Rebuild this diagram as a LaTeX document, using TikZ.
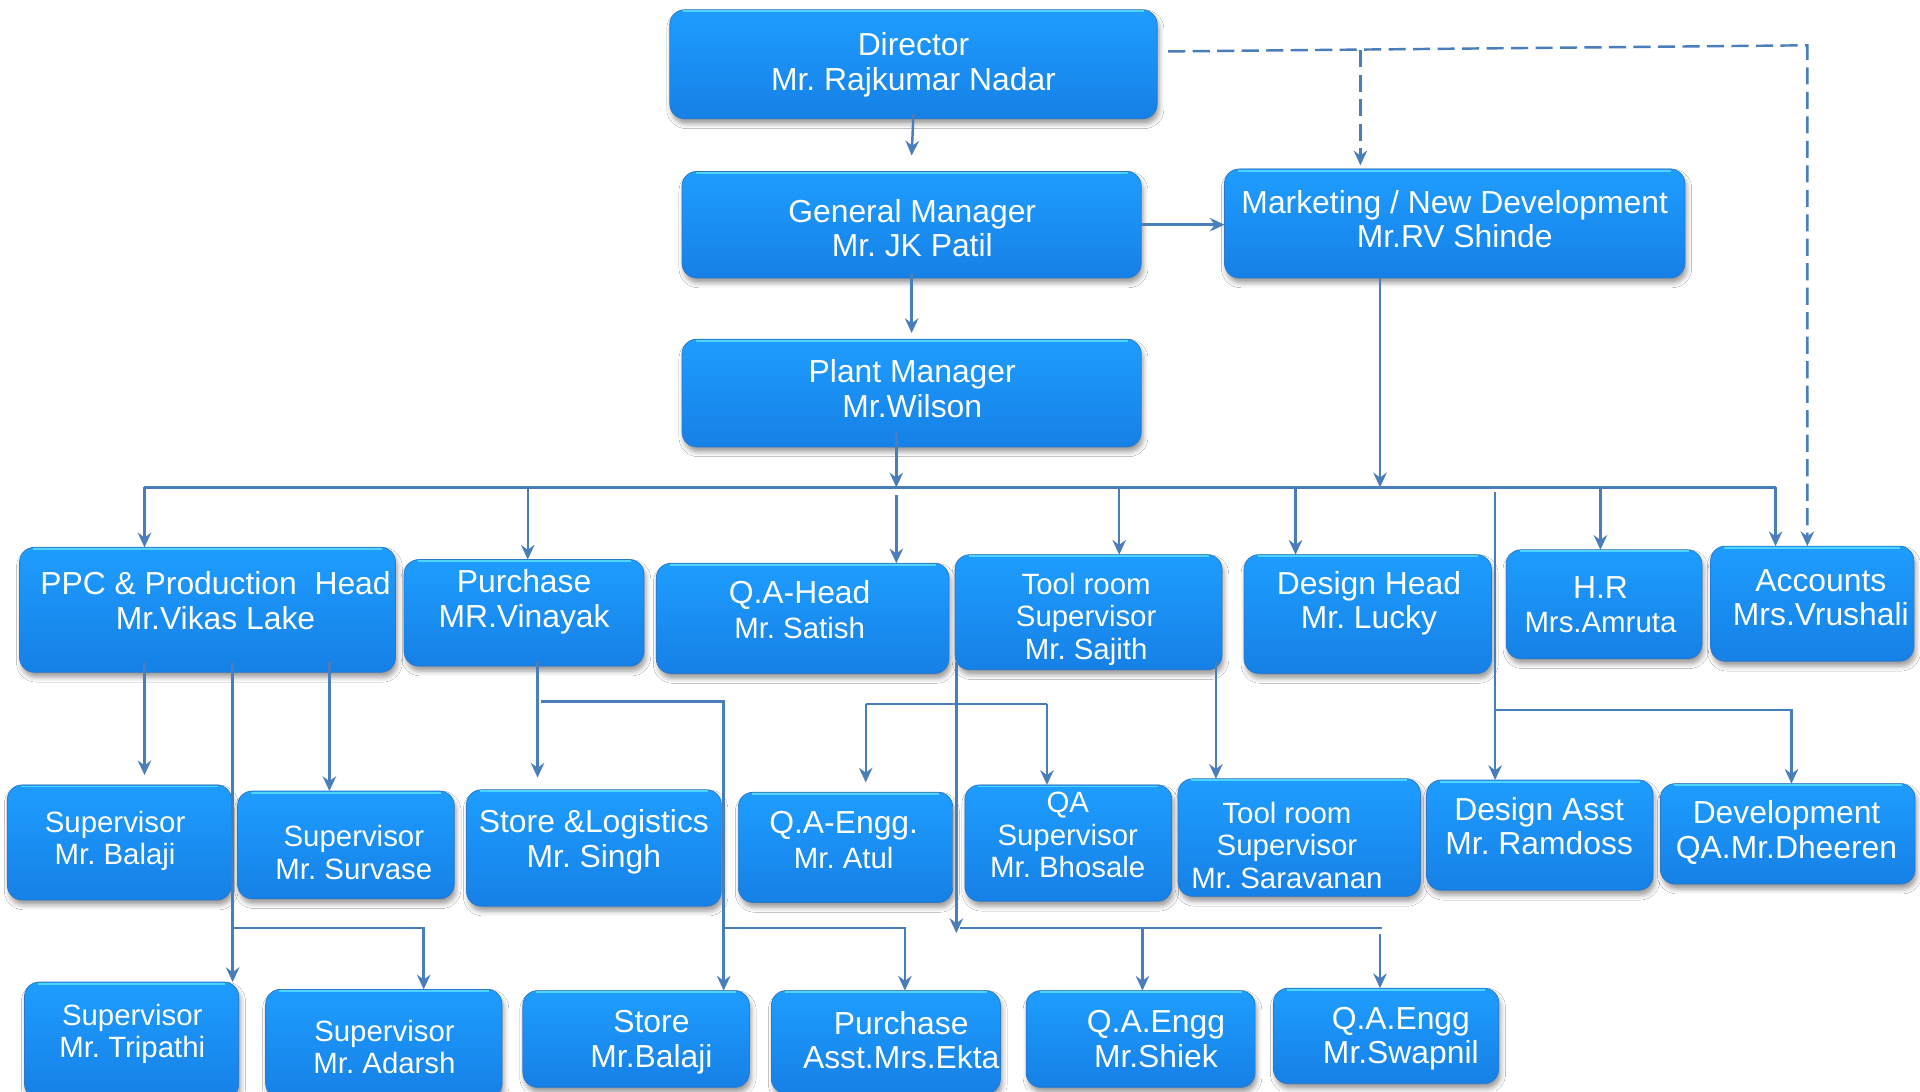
\documentclass[tikz,border=0pt]{standalone}
\usepackage{fontspec}
\setmainfont{Liberation Sans}
\usetikzlibrary{arrows.meta,shadows.blur}
\definecolor{lc}{HTML}{4A7EBB}
\definecolor{btop}{HTML}{1E9DFF}
\definecolor{bbot}{HTML}{1680E6}
\definecolor{bedge}{HTML}{2C78C6}
\definecolor{hlc}{HTML}{4FD3FF}
\tikzset{
  obox/.style={rectangle, rounded corners=12pt, top color=btop, bottom color=bbot,
    draw=bedge, line width=0.6pt, inner sep=0pt, outer sep=0pt,
    blur shadow={shadow xshift=1.5pt, shadow yshift=-4pt, shadow blur radius=4pt, shadow opacity=40}},
  hl/.style={draw=hlc, line width=1.6pt},
  otext/.style={text=white, align=center, inner sep=0pt, font=\frenchspacing\fontsize{26}{28}\selectfont,
    execute at begin node=\strut, execute at end node=\strut},
  osmall/.style={font=\frenchspacing\fontsize{24}{26.5}\selectfont},
  ln/.style={draw=lc, line width=2pt},
  arr/.style={ln, -{Stealth[length=12pt,width=11pt,inset=4pt]}},
  darr/.style={arr, dash pattern=on 14pt off 6pt},
}
\newcommand\orgbox[9][]{%
  \node[obox, minimum width={(#5-#3)*1pt}, minimum height={(#6-#4)*1pt}] (#2) at ({(#3+#5)/2},{(#4+#6)/2}) {};
  \draw[hl] ([xshift=11pt,yshift=-1.3pt]#2.north west) -- ([xshift=-11pt,yshift=-1.3pt]#2.north east);
  \node[otext,#1] (#2-t) at (#7,#8) {#9};
}
\begin{document}
\begin{tikzpicture}[x=1pt,y=-1pt]
\fill[white] (0,0) rectangle (1568,891);
\useasboundingbox (0,0) rectangle (1568,891);

% top
\orgbox{dir}{547}{8}{945}{97}{746}{54.5}{Director\\Mr. Rajkumar Nadar}
\orgbox{gm}{557}{140}{932}{227}{745}{190.5}{General Manager\\Mr. JK Patil}
\orgbox{mkt}{1000}{138}{1376}{227}{1188}{183}{Marketing / New Development\\Mr.RV Shinde}
\orgbox{pm}{557}{277}{932}{365}{745}{321.5}{Plant Manager\\Mr.Wilson}

% row 2
\orgbox{ppc}{16}{447}{323}{549}{176}{494.5}{PPC \& Production~ Head\\Mr.Vikas Lake}
\orgbox{pur}{330}{457}{526}{544}{428}{493}{Purchase\\MR.Vinayak}
\orgbox{qah}{536}{460}{775}{550}{653}{502}{Q.A-Head\\{\fontsize{24}{26}\selectfont Mr. Satish}}
\orgbox[osmall]{tr1}{780}{453}{998}{547}{887}{507}{Tool room\\Supervisor\\Mr. Sajith}
\orgbox{dh}{1016}{453}{1218}{550}{1118}{494}{Design Head\\Mr. Lucky}
\orgbox{hr}{1230}{449}{1390}{538}{1307}{498}{H.R\\{\fontsize{24}{26}\selectfont Mrs.Amruta}}
\orgbox{acc}{1397}{446}{1563}{540}{1487}{492}{Accounts\\Mrs.Vrushali}

% row 3
\orgbox[osmall]{sbal}{6}{641}{189}{735}{94}{688}{Supervisor\\Mr. Balaji}
\orgbox[osmall]{ssur}{194}{646}{371}{734}{289}{700}{Supervisor\\Mr. Survase}
\orgbox{sl}{381}{645}{589}{740}{485}{689}{Store \&Logistics\\Mr. Singh}
\orgbox{atul}{603}{647}{778}{737}{689}{690}{Q.A-Engg.\\{\fontsize{24}{26}\selectfont Mr. Atul}}
\orgbox[osmall]{bho}{788}{641}{957}{736}{872}{686}{QA\\Supervisor\\Mr. Bhosale}
\orgbox[osmall]{sar}{962}{636}{1160}{732}{1051}{694}{Tool room\\Supervisor\\Mr. Saravanan}
\orgbox{da}{1165}{637}{1350}{727}{1257}{679}{Design Asst\\Mr. Ramdoss}
\orgbox{dev}{1356}{640}{1564}{722}{1459}{681.5}{Development\\QA.Mr.Dheeren}

% row 4
\orgbox[osmall]{tri}{20}{802}{195}{897}{108}{846}{Supervisor\\Mr. Tripathi}
\orgbox[osmall]{ada}{217}{808}{410}{897}{314}{859}{Supervisor\\Mr. Adarsh}
\orgbox{sto}{427}{809}{612}{888}{532}{852.5}{Store\\Mr.Balaji}
\orgbox{pa}{630}{809}{817}{893}{736}{853.5}{Purchase\\Asst.Mrs.Ekta}
\orgbox{shi}{838}{809}{1025}{888}{944}{852.5}{Q.A.Engg\\Mr.Shiek}
\orgbox{swa}{1040}{807}{1224}{885}{1144}{850}{Q.A.Engg\\Mr.Swapnil}

% top connectors
\draw[arr] ([yshift=4pt]dir.south) -- ([yshift=13pt]gm.north);
\draw[arr] ([yshift=4pt]gm.south) -- ([yshift=5pt]pm.north);
\draw[arr] (gm.east) -- (gm.east -| mkt.west);

% dashed links
\coordinate (dA) at (954,42);
\coordinate (dB) at (1476,37);
\coordinate (dM) at (1111,41);
\draw[darr] (dA) -- (dB) -- (dB |- acc.north);
\draw[darr] (dM) -- ([yshift=3pt]mkt.north -| dM);

% bus
\coordinate (busL) at (118,398);
\coordinate (busR) at (1450,398);
\coordinate (xqa) at (732,398);
\coordinate (xmk) at (1127,398);
\coordinate (xpu) at (431,398);
\coordinate (xtr) at (914,398);
\coordinate (xdh) at (1058,398);
\coordinate (xhr) at (1307,398);
\coordinate (xda) at (1221,402);
\draw[ln] (busL) -- (busR);
\draw[arr] ([yshift=12pt]pm.south -| xqa) -- (xqa);
\draw[arr] (mkt.south -| xmk) -- (xmk);
\draw[arr] ([yshift=-6pt]xqa) -- (xqa |- qah.north);
\draw[arr] (busL) -- (busL |- ppc.north);
\draw[arr] (xpu) -- (xpu |- pur.north);
\draw[arr] (xtr) -- (xtr |- tr1.north);
\draw[arr] (xdh) -- (xdh |- dh.north);
\draw[arr] (xhr) -- (xhr |- hr.north);
\draw[arr] (busR) -- (busR |- acc.north);

% design branch
\coordinate (jdev) at (1221,580);
\coordinate (cdev) at (1463,580);
\draw[arr] (xda) -- (xda |- da.north);
\draw[arr] (jdev) -- (cdev) -- (cdev |- dev.north);

% tool room
\coordinate (xsar) at (993,541);
\draw[arr] (xsar) -- (xsar |- sar.north);

% PPC children
\coordinate (p1) at (118,541);
\coordinate (p2) at (269,541);
\coordinate (p3) at (190,541);
\coordinate (p4) at (190,758);
\coordinate (p5) at (346,758);
\draw[arr] (p1) -- ([yshift=8pt]p1 |- sbal.north);
\draw[arr] (p2) -- (p2 |- ssur.north);
\draw[arr] (p3) -- (p3 |- tri.north);
\draw[arr] (p4) -- (p5) -- (p5 |- ada.north);

% Purchase children
\coordinate (q1) at (439,541);
\coordinate (q2) at (442,573);
\coordinate (q3) at (591,573);
\coordinate (q4) at (591,758);
\coordinate (q5) at (739,758);
\draw[arr] (q1) -- ([yshift=10pt]q1 |- sl.north);
\draw[arr] (q2) -- (q3) -- (q3 |- sto.north);
\draw[arr] (q4) -- (q5) -- (q5 |- pa.north);

% QA children
\coordinate (r1) at (781,541);
\coordinate (r2) at (781,762);
\coordinate (r3) at (707,575);
\coordinate (r4) at (855,575);
\draw[arr] (r1) -- (r2);
\draw[ln] (r3) -- (r4);
\draw[arr] (r3) -- ([yshift=8pt]r3 |- atul.north);
\draw[arr] (r4) -- (r4 |- bho.north);
\coordinate (s1) at (784,758);
\coordinate (s2) at (1129,758);
\coordinate (s3) at (933,758);
\coordinate (s4) at (1127,763);
\draw[ln] (s1) -- (s2);
\draw[arr] (s3) -- (s3 |- shi.north);
\draw[arr] (s4) -- (s4 |- swa.north);
\end{tikzpicture}
\end{document}
